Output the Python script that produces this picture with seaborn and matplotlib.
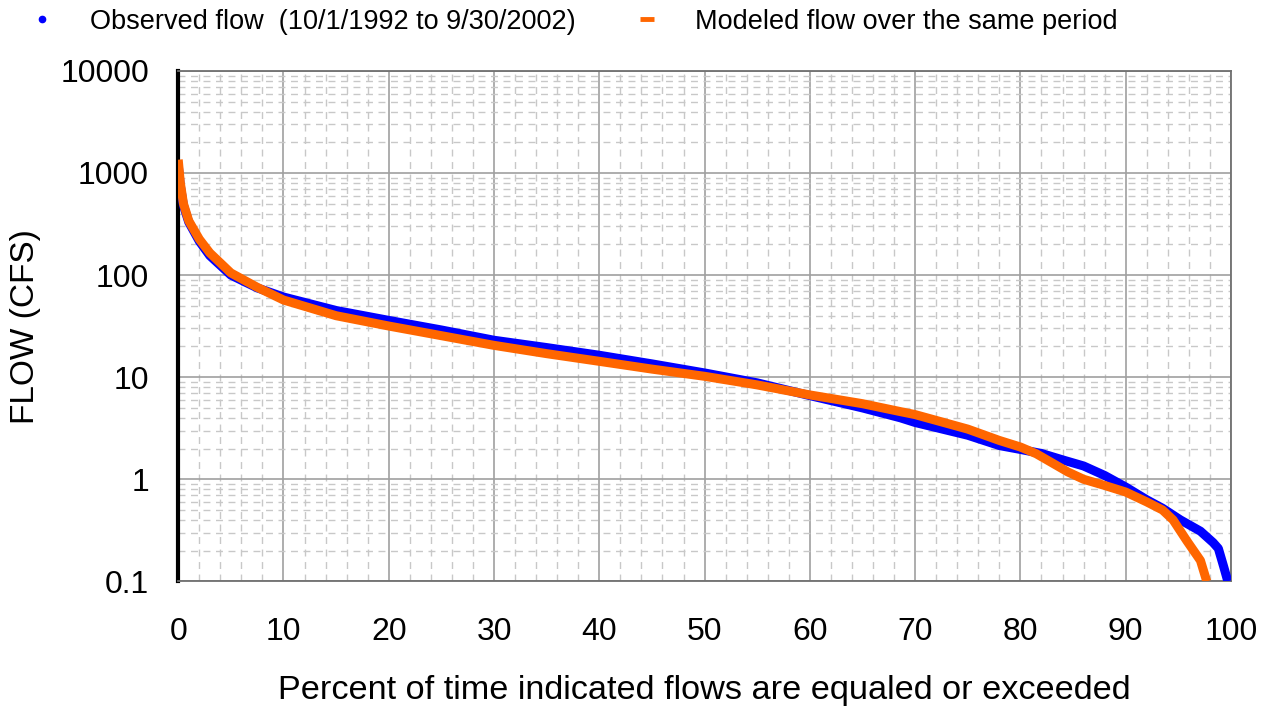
import matplotlib
matplotlib.use("Agg")
import matplotlib.pyplot as plt
import matplotlib.ticker as mticker
from matplotlib.lines import Line2D
import seaborn as sns
import pandas as pd

# flow duration curve
pct_obs = [0, 0.2, 0.5, 1, 2, 3, 5, 7.5, 10, 15, 20, 25, 30, 35, 40, 45, 50, 55, 60,
           65, 68.6, 70, 75, 78, 80, 82, 84, 86, 88, 90, 92, 93.5, 95.2, 97.1, 98.3, 98.8, 99.3, 99.7]
flow_obs = [1200, 750, 480, 330, 215, 155, 100, 75, 61, 45, 36, 29, 23, 19.5, 16.4, 13.5, 11, 8.8, 6.6,
            5.0, 4.0, 3.6, 2.7, 2.14, 1.96, 1.79, 1.55, 1.35, 1.09, 0.84, 0.63, 0.52, 0.40, 0.31, 0.24, 0.21, 0.14, 0.1]

pct_mod = [0, 0.2, 0.5, 1, 2, 3, 5, 7.5, 10, 15, 20, 25, 30, 35, 40, 45, 50, 55, 60,
           65, 68.6, 70, 75, 78, 80, 81.5, 83, 84.5, 86, 88, 90, 92, 93.5, 94.5, 95.8, 97.1, 97.7]
flow_mod = [1350, 800, 500, 340, 225, 165, 105, 76, 57, 40, 31.7, 25.5, 20.5, 17, 14.3, 12, 10.2, 8.4, 6.7,
            5.5, 4.6, 4.3, 3.1, 2.4, 2.07, 1.78, 1.45, 1.18, 1.0, 0.87, 0.75, 0.60, 0.50, 0.40, 0.25, 0.16, 0.1]

obs_label = "Observed flow  (10/1/1992 to 9/30/2002)"
mod_label = "Modeled flow over the same period"

sns.set_style("white")
plt.rcParams['font.family'] = ['Liberation Sans', 'DejaVu Sans']
plt.rcParams['text.color'] = 'black'
plt.rcParams['axes.labelcolor'] = 'black'
plt.rcParams['xtick.labelcolor'] = 'black'
plt.rcParams['ytick.labelcolor'] = 'black'

fig = plt.figure(figsize=(12.73, 7.09), dpi=100)
ax = fig.add_axes([0.14, 0.18, 0.827, 0.72])

df_obs = pd.DataFrame({"pct": pct_obs, "flow": flow_obs})
df_mod = pd.DataFrame({"pct": pct_mod, "flow": flow_mod})
sns.lineplot(data=df_obs, x="pct", y="flow", ax=ax, color="#0000ff", lw=6.5,
             solid_capstyle="butt", zorder=3)
sns.lineplot(data=df_mod, x="pct", y="flow", ax=ax, color="#ff6600", lw=6.5,
             solid_capstyle="butt", zorder=4)

ax.set_yscale("log")
ax.set_xlim(0, 100)
ax.set_ylim(0.1, 10000)
ax.xaxis.set_major_locator(mticker.MultipleLocator(10))
ax.xaxis.set_minor_locator(mticker.MultipleLocator(2))
ax.yaxis.set_major_locator(mticker.LogLocator(base=10))
ax.yaxis.set_minor_locator(mticker.LogLocator(base=10, subs=range(2, 10)))
ax.yaxis.set_major_formatter(mticker.FuncFormatter(lambda v, p: f"{v:g}"))
ax.yaxis.set_minor_formatter(mticker.NullFormatter())

ax.grid(True, which="major", color="#a0a0a0", lw=1.2, ls="-")
ax.grid(True, which="minor", color="#c8c8c8", lw=1, ls=(0, (5, 4)))
ax.set_axisbelow(True)

for s in ["top", "right", "bottom"]:
    ax.spines[s].set_color("#707070")
    ax.spines[s].set_linewidth(1.3)
ax.spines["left"].set_color("black")
ax.spines["left"].set_linewidth(3)

ax.tick_params(axis="both", which="major", length=8, width=1.3, color="#303030",
               labelsize=23, direction="out")
ax.tick_params(axis="y", which="major", pad=13)
ax.tick_params(axis="x", which="major", pad=18)
ax.tick_params(axis="both", which="minor", length=0)

ax.set_xlabel("Percent of time indicated flows are equaled or exceeded", fontsize=24.7, labelpad=20)
ax.set_ylabel("FLOW (CFS)", fontsize=24, labelpad=14)

handles = [Line2D([], [], ls="none", marker="o", ms=4.5, color="#0000ff"),
           Line2D([], [], ls="none", marker="_", ms=10, mew=3.5, color="#ff6600")]
fig.legend(handles, [obs_label, mod_label], loc="upper left", bbox_to_anchor=(0.02, 0.988),
           ncol=2, frameon=False, fontsize=19.5, handletextpad=1.2, columnspacing=2.0,
           handlelength=1.2, borderaxespad=0, borderpad=0)

fig.savefig("out.png", dpi=100)
